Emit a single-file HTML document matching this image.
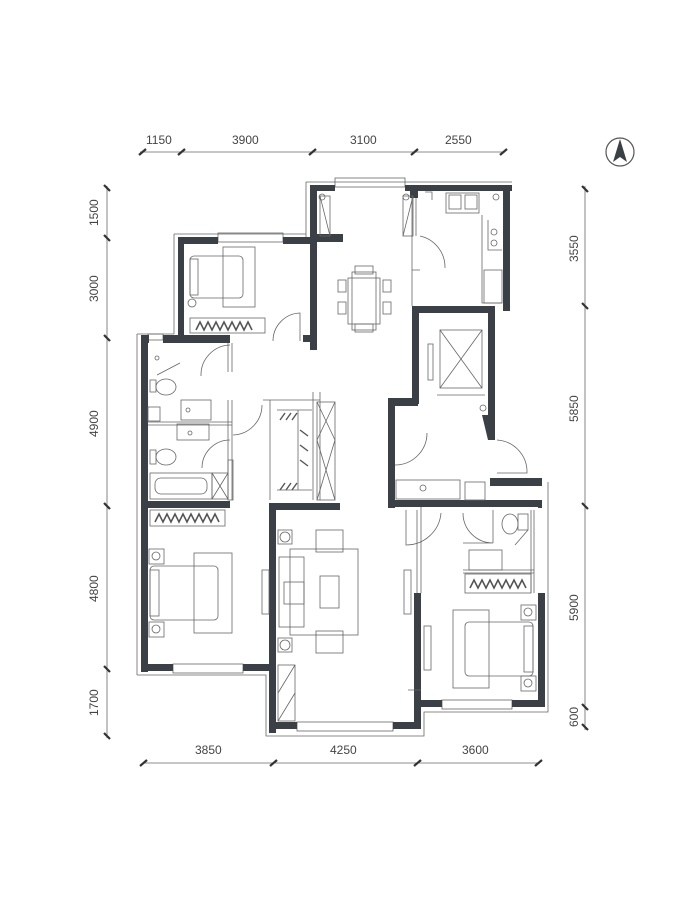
<!DOCTYPE html>
<html><head><meta charset="utf-8"><style>
html,body{margin:0;padding:0;background:#fff;}
svg{display:block;}
text{font-family:"Liberation Sans",sans-serif;font-size:12px;fill:#444;}
.w{fill:#3b4046;}
.l{fill:none;stroke:#666;stroke-width:0.8;}
.d{stroke:#666;stroke-width:0.8;}
.t{stroke:#333;stroke-width:2.2;}
</style></head><body>
<svg width="675" height="900" viewBox="0 0 675 900" xmlns="http://www.w3.org/2000/svg">
<!-- dimension lines -->
<g>
<line class="d" x1="140" y1="152" x2="505" y2="152"/>
<line class="t" x1="139" y1="155" x2="146" y2="149"/>
<line class="t" x1="178" y1="155" x2="185" y2="149"/>
<line class="t" x1="309" y1="155" x2="316" y2="149"/>
<line class="t" x1="411" y1="155" x2="418" y2="149"/>
<line class="t" x1="500" y1="155" x2="507" y2="149"/>
<text x="146" y="144">1150</text><text x="232" y="144">3900</text>
<text x="350" y="144">3100</text><text x="445" y="144">2550</text>

<line class="d" x1="107" y1="186" x2="107" y2="738"/>
<line class="t" x1="104" y1="185" x2="110" y2="191"/>
<line class="t" x1="104" y1="235" x2="110" y2="241"/>
<line class="t" x1="104" y1="335" x2="110" y2="341"/>
<line class="t" x1="104" y1="503" x2="110" y2="509"/>
<line class="t" x1="104" y1="666" x2="110" y2="672"/>
<line class="t" x1="104" y1="733" x2="110" y2="739"/>
<text transform="translate(98,226) rotate(-90)">1500</text>
<text transform="translate(98,302) rotate(-90)">3000</text>
<text transform="translate(98,437) rotate(-90)">4900</text>
<text transform="translate(98,602) rotate(-90)">4800</text>
<text transform="translate(98,716) rotate(-90)">1700</text>

<line class="d" x1="585" y1="186" x2="585" y2="730"/>
<line class="t" x1="582" y1="186" x2="588" y2="192"/>
<line class="t" x1="582" y1="303" x2="588" y2="309"/>
<line class="t" x1="582" y1="503" x2="588" y2="509"/>
<line class="t" x1="582" y1="704" x2="588" y2="710"/>
<line class="t" x1="582" y1="724" x2="588" y2="730"/>
<text transform="translate(578,262) rotate(-90)">3550</text>
<text transform="translate(578,422) rotate(-90)">5850</text>
<text transform="translate(578,621) rotate(-90)">5900</text>
<text transform="translate(578,727) rotate(-90)">600</text>

<line class="d" x1="143" y1="763" x2="540" y2="763"/>
<line class="t" x1="140" y1="766" x2="147" y2="760"/>
<line class="t" x1="270" y1="766" x2="277" y2="760"/>
<line class="t" x1="414" y1="766" x2="421" y2="760"/>
<line class="t" x1="535" y1="766" x2="542" y2="760"/>
<text x="195" y="754">3850</text><text x="330" y="754">4250</text><text x="462" y="754">3600</text>
</g>
<!-- compass -->
<circle cx="620" cy="152" r="14" fill="none" stroke="#555" stroke-width="1.2"/>
<path d="M620 139 L613 162 L620 157 L627 162 Z" fill="#3b4046"/>

<!-- outer thin lines (window sills etc.) -->
<path class="l" d="M306 182 H512 M306 182 V237 M174 234 H306 M174 234 V334 M137 334 H174 M137 334 V675 M137 675 H266 V736 H424 V712 H548 V482"/>
<rect class="l" x="335" y="178" width="70" height="9"/>
<rect class="l" x="218" y="233" width="65" height="9"/>
<rect class="l" x="173" y="664" width="70" height="9"/>
<rect class="l" x="297" y="722" width="96" height="9"/>
<rect class="l" x="442" y="700" width="70" height="9"/>
<rect class="l" x="148" y="334" width="15" height="6"/>

<!-- walls -->
<g class="w">
<rect x="310" y="185" width="25" height="6"/><rect x="405" y="185" width="107" height="6"/>
<rect x="310" y="185" width="7" height="165"/>
<rect x="310" y="234" width="33" height="8"/>
<rect x="178" y="237" width="40" height="7"/><rect x="283" y="237" width="34" height="7"/>
<rect x="178" y="237" width="6" height="104"/>
<rect x="141" y="335" width="8" height="8"/><rect x="163" y="335" width="67" height="8"/>
<rect x="141" y="335" width="7" height="337"/>
<rect x="303" y="335" width="14" height="7"/>
<rect x="503" y="185" width="7" height="126"/>
<rect x="410" y="185" width="8" height="13"/>
<rect x="412" y="306" width="83" height="7"/>
<rect x="412" y="306" width="7" height="98"/>
<rect x="488" y="306" width="7" height="109"/>
<rect x="388" y="398" width="30" height="8"/>
<rect x="388" y="398" width="7" height="110"/>
<polygon points="482,415 495,415 495,440 488,440"/>
<rect x="490" y="478" width="52" height="8"/>
<rect x="388" y="500" width="154" height="7"/>
<rect x="141" y="501" width="89" height="7"/>
<rect x="269" y="503" width="71" height="7"/>
<rect x="269" y="503" width="7" height="230"/>
<rect x="141" y="664" width="32" height="7"/><rect x="243" y="664" width="30" height="7"/>
<rect x="269" y="722" width="28" height="7"/><rect x="393" y="722" width="28" height="7"/>
<rect x="414" y="593" width="7" height="136"/>
<rect x="414" y="700" width="28" height="7"/><rect x="512" y="700" width="33" height="7"/>
<rect x="538" y="593" width="7" height="114"/>
<rect x="538" y="500" width="4" height="8"/>
</g>

<!-- interior partition thin lines -->
<g class="l">
<path d="M228 343 V372 M232 343 V372 M228 400 V500 M232 400 V500 M148 422 H232 M148 425 H232"/>
<path d="M201 376 A30 30 0 0 1 230 345"/>
<path d="M233 435 A30 30 0 0 0 262 405"/>
<path d="M202 468 A28 28 0 0 1 230 440"/>
<path d="M273 341 A28 28 0 0 1 300 313 V341"/>
<path d="M412 198 V306 M416 198 V236 M420 270 H412"/>
<path d="M420 236 A32 32 0 0 1 445 268"/>
<path d="M395 465 A32 32 0 0 0 427 433"/>
<path d="M497 440 A32 32 0 0 1 527 473 H497"/>
<path d="M421 507 V593 M417 510 V593 M408 690 H421"/>
<path d="M441 513 A35 35 0 0 1 406 545 V510"/>
<path d="M463 513 A30 30 0 0 0 493 543 H463 M493 510 V543"/>
<path d="M534 510 V593 M531 510 V593"/>
<path d="M463 570 H534 M463 573 H534"/>
<path d="M263 400 H320 M270 400 V500 M313 392 V500 M320 392 V500"/>
<rect x="317" y="402" width="18" height="98"/>
<path d="M317 402 L335 440 M335 402 L317 440 M317 440 L335 500 M335 440 L317 500"/>
<rect x="228" y="460" width="5" height="40"/>
</g>

<!-- furniture bedroom 1 -->
<g class="l">
<rect x="223" y="247" width="32" height="60"/>
<rect x="190" y="256" width="53" height="42" rx="4"/>
<rect x="190" y="259" width="8" height="36"/>
<circle cx="192" cy="303" r="4"/>
<rect x="190" y="318" width="75" height="15"/>
<path d="M196 330 L200 322 L204 330 L208 322 L212 330 L216 322 L220 330 L224 322 L228 330 L232 322 L236 330 L240 322 L244 330 L248 322 L252 330" stroke="#555" stroke-width="1.6"/>
</g>
<!-- dining -->
<g class="l">
<rect x="348" y="278" width="32" height="46"/>
<rect x="352" y="272" width="24" height="58"/>
<rect x="355" y="266" width="18" height="8"/><rect x="355" y="324" width="18" height="8"/>
<rect x="338" y="280" width="8" height="12"/><rect x="338" y="302" width="8" height="12"/>
<rect x="383" y="280" width="8" height="12"/><rect x="383" y="302" width="8" height="12"/>
</g>
<!-- wardrobe dining left -->
<g class="l">
<rect x="320" y="196" width="10" height="40"/><path d="M320 196 L330 236"/>
<circle cx="322" cy="197" r="3"/>
<rect x="403" y="196" width="10" height="40"/><path d="M403 236 L413 196"/>
<circle cx="406" cy="197" r="3"/>
</g>
<!-- kitchen -->
<g class="l">
<rect x="446" y="193" width="33" height="20"/>
<rect x="449" y="195" width="12" height="14"/><rect x="465" y="195" width="12" height="14"/>
<path d="M482 215 V303 H502 M488 220 V250 H502"/>
<circle cx="494" cy="232" r="3"/><circle cx="494" cy="243" r="3"/>
<rect x="484" y="270" width="18" height="33"/>
<circle cx="496" cy="197" r="3"/><path d="M425 192 H432 V200"/>
</g>
<!-- stair/elevator -->
<g class="l">
<rect x="440" y="330" width="42" height="58"/><path d="M440 330 L482 388 M482 330 L440 388"/>
<rect x="428" y="344" width="5" height="36"/>
<path d="M437 395 H485"/>
<circle cx="483" cy="408" r="3"/>
</g>
<!-- bathroom -->
<g class="l">
<circle cx="157" cy="358" r="2"/>
<path d="M157 375 L180 363"/>
<rect x="150" y="380" width="6" height="12"/><ellipse cx="166" cy="387" rx="10" ry="8"/>
<rect x="181" y="400" width="30" height="20"/>
<rect x="148" y="407" width="12" height="14"/>
<rect x="177" y="424" width="32" height="16"/>
<ellipse cx="166" cy="457" rx="10" ry="8"/><rect x="150" y="450" width="6" height="14"/>
<rect x="150" y="473" width="62" height="26"/><rect x="155" y="478" width="52" height="16" rx="6"/>
<rect x="212" y="473" width="16" height="26"/><path d="M212 473 L228 499 M228 473 L212 499"/>
<circle cx="188" cy="410" r="2"/><circle cx="190" cy="433" r="2"/>
</g>
<!-- cloak -->
<g class="l">
<path d="M277 410 H312 M298 410 V490 M277 490 H312"/>
<path d="M280 420 L285 413 M286 420 L291 413 M292 420 L297 413 M280 490 L285 483 M286 490 L291 483 M292 490 L297 483 M300 430 L308 436 M300 445 L308 451 M300 460 L308 466" stroke="#555" stroke-width="1.4"/>
</g>
<!-- bedroom 2 -->
<g class="l">
<rect x="150" y="510" width="75" height="16"/>
<path d="M155 522 L159 514 L163 522 L167 514 L171 522 L175 514 L179 522 L183 514 L187 522 L191 514 L195 522 L199 514 L203 522 L207 514 L211 522 L215 514 L219 522" stroke="#555" stroke-width="1.6"/>
<rect x="194" y="553" width="38" height="80"/>
<rect x="150" y="566" width="68" height="54" rx="4"/>
<rect x="150" y="570" width="9" height="46"/>
<rect x="149" y="549" width="15" height="15"/><circle cx="156" cy="556" r="4"/>
<rect x="149" y="622" width="15" height="15"/><circle cx="156" cy="629" r="4"/>
<rect x="262" y="570" width="7" height="44"/>
</g>
<!-- living -->
<g class="l">
<rect x="278" y="530" width="14" height="14"/><circle cx="285" cy="537" r="5"/>
<rect x="278" y="638" width="14" height="14"/><circle cx="285" cy="645" r="5"/>
<rect x="290" y="549" width="68" height="86"/>
<rect x="279" y="557" width="25" height="70"/><rect x="284" y="582" width="20" height="22"/>
<rect x="316" y="530" width="27" height="22"/><rect x="316" y="631" width="27" height="22"/>
<rect x="320" y="576" width="19" height="32"/>
<rect x="278" y="665" width="17" height="56"/><path d="M278 693 L295 665 M278 721 L295 693"/>
<rect x="404" y="570" width="7" height="44"/>
</g>
<!-- entry cabinet -->
<g class="l">
<rect x="396" y="480" width="64" height="19"/>
<circle cx="423" cy="488" r="3"/>
<rect x="465" y="482" width="20" height="18"/>
</g>
<!-- bath right -->
<g class="l">
<ellipse cx="510" cy="524" rx="8" ry="10"/><rect x="518" y="514" width="10" height="16"/>
<rect x="469" y="550" width="33" height="20"/>
<path d="M515 545 L528 530"/>
<rect x="465" y="574" width="66" height="19"/>
<path d="M470 588 L474 580 L478 588 L482 580 L486 588 L490 580 L494 588 L498 580 L502 588 L506 580 L510 588 L514 580 L518 588 L522 580 L526 588" stroke="#555" stroke-width="1.6"/>
</g>
<!-- bedroom 3 -->
<g class="l">
<rect x="453" y="610" width="36" height="78"/>
<rect x="465" y="622" width="68" height="54" rx="4"/>
<rect x="524" y="626" width="9" height="46"/>
<rect x="521" y="605" width="15" height="15"/><circle cx="528" cy="612" r="4"/>
<rect x="521" y="676" width="15" height="15"/><circle cx="528" cy="683" r="4"/>
<rect x="424" y="626" width="7" height="44"/>
</g>
</svg>
</body></html>
